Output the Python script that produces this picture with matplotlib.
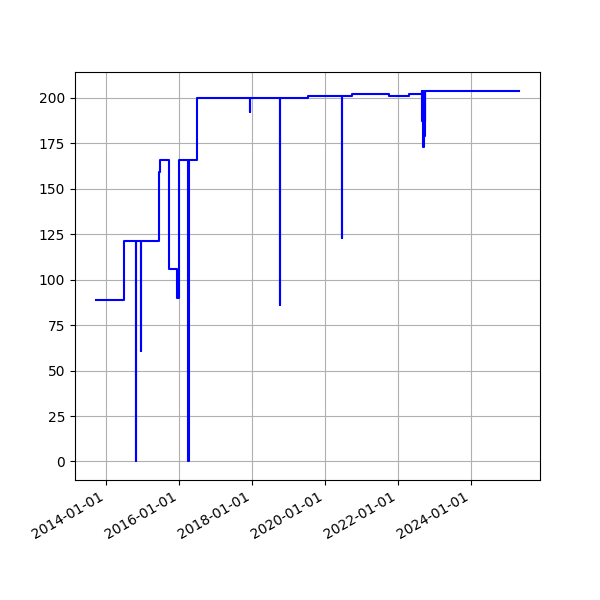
import pandas as pd
import matplotlib
matplotlib.use("Agg")
import matplotlib.pyplot as plt
import matplotlib.dates as mdates

# change points of the series (value holds until the next date)
dates = [
    "2013-09-23", "2014-06-30", "2014-10-28", "2014-10-29", "2014-12-20",
    "2014-12-21", "2015-06-18", "2015-06-25", "2015-09-23", "2015-12-15",
    "2015-12-29", "2016-04-01", "2016-04-07", "2016-06-26", "2017-12-12",
    "2017-12-13", "2018-10-05", "2018-10-06", "2019-07-18", "2020-06-19",
    "2020-06-20", "2020-09-24", "2021-10-05", "2022-04-20", "2022-09-01",
    "2022-09-03", "2022-09-04", "2022-09-08", "2022-09-09", "2022-09-13",
    "2022-09-14", "2022-09-18", "2022-09-19", "2022-09-23", "2022-09-24",
    "2022-09-28", "2022-09-29", "2025-04-25",
]
values = [
    89, 121, 0, 121, 61,
    121, 159, 166, 106, 90,
    166, 0, 166, 200, 192,
    200, 86, 200, 201, 123,
    201, 202, 201, 202, 204,
    187, 204, 187, 204, 173,
    204, 187, 204, 179, 204,
    187, 204, 204,
]

df = pd.DataFrame({"date": pd.to_datetime(dates), "value": values})

fig, ax = plt.subplots(figsize=(6, 6), dpi=100)
ax.plot(df["date"], df["value"], color="blue", drawstyle="steps-post")
ax.xaxis.set_major_formatter(mdates.DateFormatter("%Y-%m-%d"))
ax.grid(True)
fig.autofmt_xdate()

fig.savefig("out.png")
